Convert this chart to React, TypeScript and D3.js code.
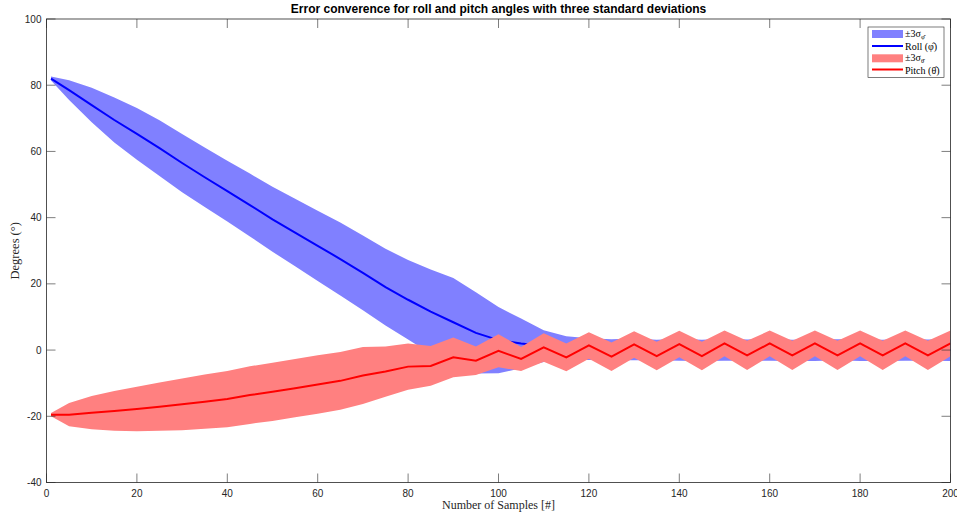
import React from "react";
import * as d3 from "d3";

const samples = [1, 5, 10, 15, 20, 25, 30, 35, 40, 45, 50, 55, 60, 65, 70, 75, 80, 85, 90, 95, 100, 105, 110, 115, 120, 125, 130, 135, 140, 145, 150, 155, 160, 165, 170, 175, 180, 185, 190, 195, 200];

const rollMean = [82, 78.5, 74, 69.5, 65.3, 61, 56.5, 52.2, 48, 43.8, 39.5, 35.5, 31.5, 27.5, 23.3, 19, 15.2, 11.6, 8.4, 5.2, 3, 2, 1.2, 0.6, 0.3, 0.1, 0.2, 0, 0.1, -0.1, 0.1, 0, 0.1, -0.1, 0, 0.1, 0, -0.1, 0.1, 0, 0];
const rollSigma3 = [0.6, 3, 5.2, 6.8, 7.8, 8.4, 8.8, 9, 9.2, 9.5, 9.8, 10.2, 10.6, 11, 11.3, 11.6, 12, 12.7, 13.4, 12.3, 10, 7.5, 4.8, 3.6, 3.3, 3.2, 3.3, 3.1, 3.3, 3.2, 3.3, 3.2, 3.3, 3.2, 3.3, 3.2, 3.3, 3.2, 3.3, 3.2, 3.3];

const pitchMean = [-19.5, -19.5, -18.9, -18.4, -17.8, -17.1, -16.4, -15.6, -14.8, -13.6, -12.6, -11.5, -10.4, -9.3, -7.7, -6.5, -5.0, -4.8, -2.2, -3.2, -0.2, -2.7, 0.8, -2.2, 1.4, -2.0, 1.7, -1.8, 1.8, -1.8, 2.0, -1.6, 2.0, -1.6, 2.0, -1.6, 2.0, -1.6, 2.0, -1.6, 2.0];
const pitchSigma3 = [0.5, 3.5, 5.0, 6.0, 6.7, 7.3, 7.8, 8.2, 8.5, 8.7, 8.8, 8.8, 8.8, 8.7, 8.6, 7.6, 7.0, 6.0, 6.0, 4.3, 5.0, 3.6, 4.3, 4.2, 4.0, 4.3, 4.0, 4.3, 4.0, 4.3, 3.9, 4.4, 3.9, 4.4, 3.9, 4.4, 3.9, 4.4, 3.9, 4.4, 3.9];

const xTicks = [0, 20, 40, 60, 80, 100, 120, 140, 160, 180, 200];
const yTicks = [-40, -20, 0, 20, 40, 60, 80, 100];

const W = 957;
const H = 515;
const L = 46.5, R = 950.5, T = 19, B = 482.5;

export default function App() {
  const x = d3.scaleLinear().domain([0, 200]).range([L, R]);
  const y = d3.scaleLinear().domain([-40, 100]).range([B, T]);

  const idx = samples.map((_, i) => i);
  const area = (m: number[], s: number[]) =>
    d3.area<number>().x((i) => x(samples[i])).y0((i) => y(m[i] - s[i])).y1((i) => y(m[i] + s[i]))(idx) || "";
  const line = (m: number[]) =>
    d3.line<number>().x((i) => x(samples[i])).y((i) => y(m[i]))(idx) || "";

  const axisColor = "#262626";
  const tickLen = 9;
  const sans = "'Liberation Sans', Arial, Helvetica, sans-serif";
  const serif = "'Liberation Serif', 'DejaVu Serif', 'Times New Roman', serif";

  return (
    <svg width={W} height={H} style={{ position: "absolute", left: 0, top: 0, background: "#fff" }}>
      <rect x={0} y={0} width={W} height={H} fill="#fff" />
      <defs>
        <clipPath id="plot">
          <rect x={L} y={T} width={R - L} height={B - T} />
        </clipPath>
      </defs>
      <g clipPath="url(#plot)">
        <path d={area(rollMean, rollSigma3)} fill="#8080ff" stroke="none" />
        <path d={line(rollMean)} fill="none" stroke="#0000ff" strokeWidth={2} />
        <path d={area(pitchMean, pitchSigma3)} fill="#ff8080" stroke="none" />
        <path d={line(pitchMean)} fill="none" stroke="#ff0000" strokeWidth={2} />
      </g>

      {xTicks.map((t) => (
        <g key={"x" + t}>
          <line x1={x(t)} x2={x(t)} y1={B} y2={B - tickLen} stroke={axisColor} strokeWidth={0.6} />
          <line x1={x(t)} x2={x(t)} y1={T} y2={T + tickLen} stroke={axisColor} strokeWidth={0.6} />
          <text x={x(t)} y={B + 14} textAnchor="middle" fontFamily={sans} fontSize={10} fill={axisColor}>
            {t}
          </text>
        </g>
      ))}
      {yTicks.map((t) => (
        <g key={"y" + t}>
          <line x1={L} x2={L + tickLen} y1={y(t)} y2={y(t)} stroke={axisColor} strokeWidth={0.6} />
          <line x1={R} x2={R - tickLen} y1={y(t)} y2={y(t)} stroke={axisColor} strokeWidth={0.6} />
          <text x={L - 5} y={y(t) + 3.5} textAnchor="end" fontFamily={sans} fontSize={10} fill={axisColor}>
            {t}
          </text>
        </g>
      ))}
      <rect x={L} y={T} width={R - L} height={B - T} fill="none" stroke={axisColor} strokeWidth={0.8} />

      <text x={(L + R) / 2} y={13} textAnchor="middle" fontFamily={sans} fontSize={12} fontWeight="bold" fill="#000">
        Error converence for roll and pitch angles with three standard deviations
      </text>

      <text x={(L + R) / 2} y={509} textAnchor="middle" fontFamily={serif} fontSize={12} fill={axisColor}>
        Number of Samples [#]
      </text>
      <text transform={`translate(19, ${(T + B) / 2}) rotate(-90)`} textAnchor="middle" fontFamily={serif} fontSize={12.5} fill={axisColor}>
        Degrees (°)
      </text>

      <g>
        <rect x={868} y={27} width={76} height={50.5} fill="#fff" stroke="#262626" strokeWidth={0.6} />
        <rect x={872} y={30} width={31} height={8} fill="#8080ff" />
        <line x1={872} x2={903} y1={46} y2={46} stroke="#0000ff" strokeWidth={2} />
        <rect x={872} y={54.3} width={31} height={8} fill="#ff8080" />
        <line x1={872} x2={903} y1={69.5} y2={69.5} stroke="#ff0000" strokeWidth={2} />
        <text x={905} y={37} fontFamily={serif} fontSize={10} fill="#000">
          ±3σ<tspan fontSize={6.5} dy={2}>φ̂</tspan>
        </text>
        <text x={905} y={49.5} fontFamily={serif} fontSize={10} fill="#000">
          Roll (φ̂)
        </text>
        <text x={905} y={61.3} fontFamily={serif} fontSize={10} fill="#000">
          ±3σ<tspan fontSize={6.5} dy={2}>θ̂</tspan>
        </text>
        <text x={905} y={73.5} fontFamily={serif} fontSize={10} fill="#000">
          Pitch (θ̂)
        </text>
      </g>
    </svg>
  );
}
